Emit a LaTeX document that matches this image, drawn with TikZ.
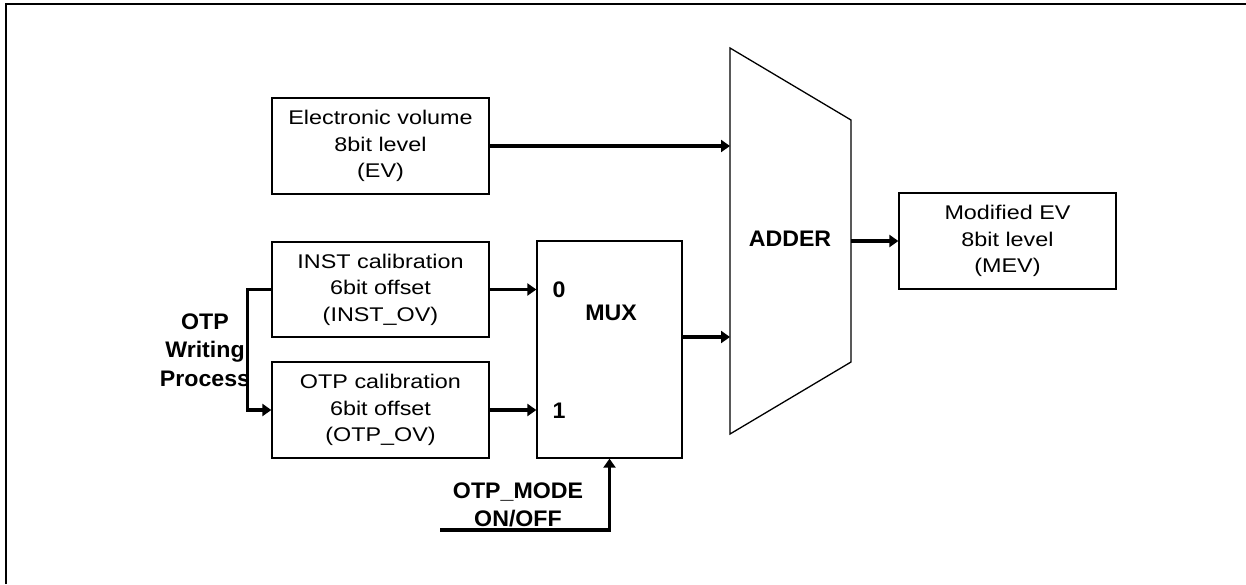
\documentclass[tikz,border=0pt]{standalone}
\usepackage{fontspec}
\setmainfont{Liberation Sans}
\newfontfamily\regf{Liberation Sans}[FakeStretch=1.18]
\newfontfamily\boldf{Liberation Sans}[FakeStretch=1.03]
\usetikzlibrary{arrows.meta}
\begin{document}
\begin{tikzpicture}[x=1pt,y=-1pt,
  blk/.style={draw, line width=1.3pt, minimum width=217pt, minimum height=96pt, inner sep=0pt,
    align=center, font=\regf\fontsize{19.8}{26.5}\selectfont},
  sig/.style={line width=3.2pt, -{Triangle[length=9pt,width=12pt]}},
  lbl/.style={font=\boldf\bfseries\fontsize{22.5}{28.5}\selectfont, align=center, inner sep=0pt}]
\useasboundingbox (0,0) rectangle (1246,584);
\draw[line width=2.2pt] (6,584) -- (6,4) -- (1246,4);
% boxes
\node[blk] (ev) at (380.5,146) {Electronic volume\\8bit level\\(EV)};
\node[blk, minimum height=95pt] (inst) at (380.5,289.5) {INST calibration\\6bit offset\\(INST\_OV)};
\node[blk] (otp) at (380.5,410) {OTP calibration\\6bit offset\\(OTP\_OV)};
\node[blk] (mev) at (1007.5,241) {Modified EV\\8bit level\\(MEV)};
\node[draw, line width=1.3pt, minimum width=145pt, minimum height=217pt, inner sep=0pt] (mux) at (609.5,349.5) {};
% adder
\draw[line width=1.3pt] (730,48) -- (851,120) -- (851,362) -- (730,434) -- cycle;
\coordinate (addL1) at (730,146);
\coordinate (addL2) at (730,337);
\coordinate (addR) at (851,241);
\node[lbl] (adder) at (790,239) {ADDER};
% labels
\node[lbl] (mux0) at (559,290) {0};
\node[lbl] (mux1) at (559,411) {1};
\node[lbl] (muxl) at (611,313) {MUX};
\node[lbl] (otpw) at (205,350) {OTP\\Writing\\Process};
\node[lbl] (mode) at (518,505) {OTP\_MODE\\ON/OFF};
% connectors
\draw[sig] (ev.east) -- (addL1);
\draw[sig] (inst.east) -- (inst.east -| mux.west);
\draw[sig] (otp.east) -- (otp.east -| mux.west);
\draw[sig] (mux.east |- addL2) -- (addL2);
\draw[sig] (addR) -- (mev.west);
\draw[sig] (inst.west) -- ++(-24,0) |- (otp.west);
\coordinate (modein) at (440,530);
\draw[sig] (modein) -| (mux.south);
\end{tikzpicture}
\end{document}
